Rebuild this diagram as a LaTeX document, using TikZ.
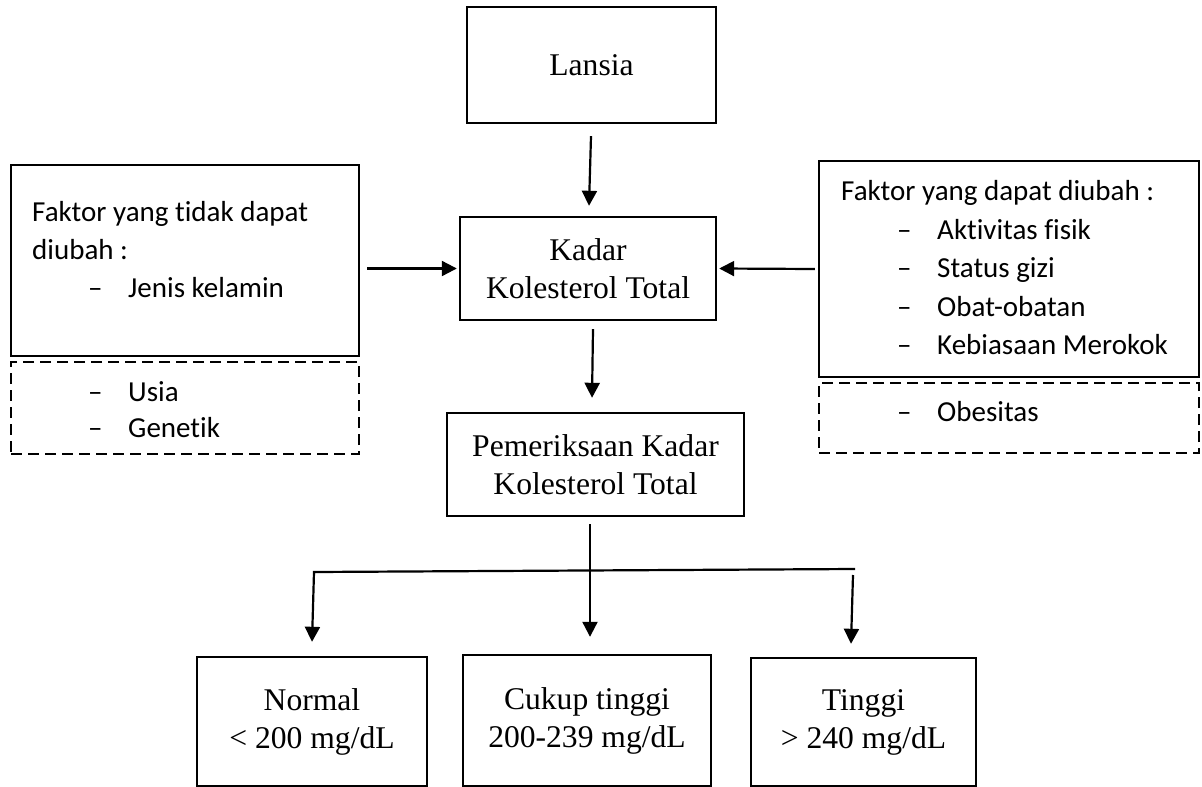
\documentclass[tikz,border=0pt]{standalone}
\usepackage{fontspec}
\setmainfont{Liberation Serif}
\newfontfamily\calibfont[Ligatures=NoCommon]{Carlito}
\usetikzlibrary{arrows.meta,calc}
\begin{document}
\begin{tikzpicture}[x=1pt,y=-1pt,
  box/.style={draw, line width=2.4pt, inner sep=0pt, align=center, font=\fontsize{31.6}{38}\selectfont},
  dbox/.style={draw, line width=2.4pt, dash pattern=on 11pt off 6pt, inner sep=0pt},
  sanstext/.style={anchor=base west, inner sep=0pt, font=\calibfont\fontsize{29}{38}\selectfont},
  arr/.style={line width=2.2pt, -{Triangle[length=15pt,width=15pt]}},
  conn/.style={line width=2.2pt}]
\fill[white] (0,0) rectangle (1202,787);
\useasboundingbox (0,0) rectangle (1202,787);

% boxes
\node[box, minimum width=249pt, minimum height=116pt] (lansia) at (591.5,65) {Lansia};
\node[box, minimum width=256pt, minimum height=103pt] (kadar) at (588,268.5) {Kadar\\Kolesterol Total};
\node[box, minimum width=348pt, minimum height=191pt] (faktortetap) at (185,260.5) {};
\node[dbox, minimum width=348pt, minimum height=92pt] (tetapextra) at (185,408) {};
\node[box, minimum width=380pt, minimum height=216pt] (faktorubah) at (1009,269) {};
\node[dbox, minimum width=380pt, minimum height=70pt] (ubahextra) at (1009,418) {};
\node[box, minimum width=297pt, minimum height=103pt] (pem) at (595.5,464.5) {Pemeriksaan Kadar\\Kolesterol Total};
\node[box, minimum width=230pt, minimum height=129pt] (normal) at (312,721.5) {Normal\\< 200 mg/dL};
\node[box, minimum width=248pt, minimum height=131pt] (cukup) at (587,720.5) {Cukup tinggi\\200-239 mg/dL};
\node[box, minimum width=225pt, minimum height=128pt] (tinggi) at (863.5,722) {Tinggi\\> 240 mg/dL};

% left texts
\node[sanstext] (lt1) at (32,221) {Faktor yang tidak dapat};
\node[sanstext] (lt2) at (32,259) {diubah :};
\node[sanstext] (ld1) at (88,297) {–};
\node[sanstext] (li1) at (128,297) {Jenis kelamin};
\node[sanstext] (ld2) at (88,401) {–};
\node[sanstext] (li2) at (128,401) {Usia};
\node[sanstext] (ld3) at (88,437) {–};
\node[sanstext] (li3) at (128,437) {Genetik};

% right texts
\node[sanstext] (rt1) at (841,200) {Faktor yang dapat diubah :};
\node[sanstext] (rd1) at (897,239) {–};
\node[sanstext] (ri1) at (937,239) {Aktivitas fisik};
\node[sanstext] (rd2) at (897,277) {–};
\node[sanstext] (ri2) at (937,277) {Status gizi};
\node[sanstext] (rd3) at (897,316) {–};
\node[sanstext] (ri3) at (937,316) {Obat-obatan};
\node[sanstext] (rd4) at (897,354) {–};
\node[sanstext] (ri4) at (937,354) {Kebiasaan Merokok};
\node[sanstext] (rd5) at (897,421) {–};
\node[sanstext] (ri5) at (937,421) {Obesitas};

% connectors
\draw[arr] ($(lansia.south)+(-0.5,12)$) -- ($(kadar.north)+(1,-10)$);
\draw[arr] ($(faktortetap.east |- kadar.west)+(7,0)$) -- ($(kadar.west)+(-2,0)$);
\draw[arr] ($(faktorubah.west)+(-3,0)$) -- ($(kadar.east)+(2,0)$);
\draw[arr] ($(kadar.south)+(5,8)$) -- ($(pem.north)+(-3.5,-14)$);
\draw[arr] ($(pem.south)+(-5.5,7)$) -- ($(cukup.north)+(3,-17)$);
\coordinate (hl) at (314,572);
\coordinate (hr) at (855,569);
\coordinate (rb) at (853,575);
\draw[arr] (hr) -- (hl) -- ($(normal.north)+(0,-14)$);
\draw[arr] (rb) -- ($(tinggi.north)+(-12.5,-13)$);
\end{tikzpicture}
\end{document}
